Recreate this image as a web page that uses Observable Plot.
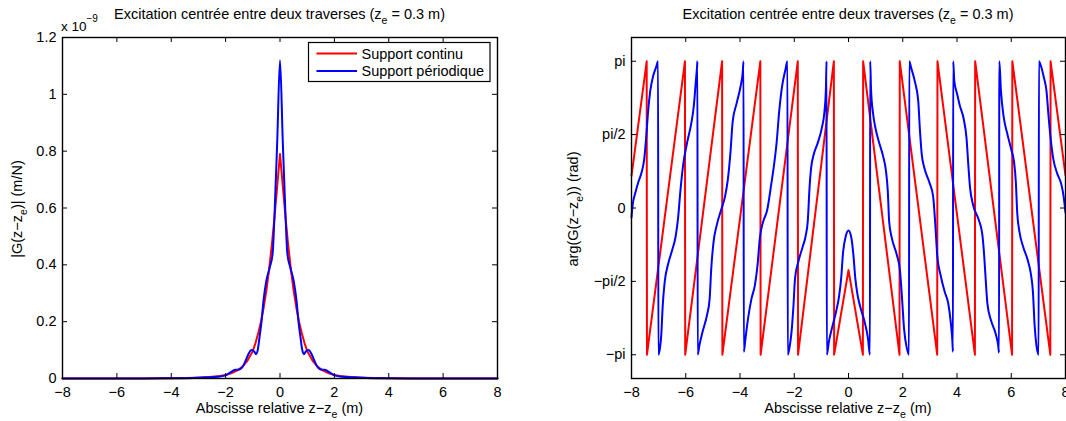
<!DOCTYPE html>
<html><head><meta charset="utf-8">
<script src="https://cdn.jsdelivr.net/npm/d3@7"></script>
<script src="https://cdn.jsdelivr.net/npm/@observablehq/plot@0.6"></script>
<style>
body{margin:0;background:#fff;}
#wrap{position:relative;width:1066px;height:421px;overflow:hidden;font-family:"Liberation Sans",Arial,Helvetica,sans-serif;}
#wrap svg{position:absolute;top:0;overflow:visible;}
</style></head><body><div id="wrap"></div>
<script>
// ---------- data ----------
const xTicks = [-8, -6, -4, -2, 0, 2, 4, 6, 8];
const magTicks = [0, 0.2, 0.4, 0.6, 0.8, 1, 1.2];
const magTickLabels = ["0", "0.2", "0.4", "0.6", "0.8", "1", "1.2"];
const phaseTicks = [-3.14159, -1.5708, 0, 1.5708, 3.14159];
const phaseTickLabels = ["\u2212pi", "\u2212pi/2", "0", "pi/2", "pi"];
const seriesNames = ["Support continu", "Support périodique"];

// |G| (x 1e-9 m/N), support continu
const redMag = [[-8,0],[-6,0.0001],[-5,0.0002],[-4,0.0008],[-3.5,0.0015],[-3,0.003],[-2.6,0.005],[-2.2,0.009],[-2,0.012],[-1.8,0.018],[-1.6,0.027],[-1.4,0.04],[-1.2,0.062],[-1,0.097],[-0.9,0.125],[-0.8,0.16],[-0.7,0.2],[-0.6,0.25],[-0.5,0.31],[-0.4,0.385],[-0.3,0.47],[-0.2,0.57],[-0.1,0.68],[0,0.79],[0.1,0.68],[0.2,0.57],[0.3,0.47],[0.4,0.385],[0.5,0.31],[0.6,0.25],[0.7,0.2],[0.8,0.16],[0.9,0.125],[1,0.097],[1.2,0.062],[1.4,0.04],[1.6,0.027],[1.8,0.018],[2,0.012],[2.2,0.009],[2.6,0.005],[3,0.003],[3.5,0.0015],[4,0.0008],[5,0.0002],[6,0.0001],[8,0]];
// |G| (x 1e-9 m/N), support périodique
const blueMag = [[-8,0],[-6,0.0001],[-5,0.0002],[-4,0.0008],[-3.2,0.002],[-2.7,0.004],[-2.3,0.006],[-2.05,0.01],[-1.9,0.017],[-1.75,0.026],[-1.65,0.031],[-1.55,0.031],[-1.45,0.034],[-1.35,0.045],[-1.25,0.066],[-1.15,0.088],[-1.05,0.1],[-0.95,0.095],[-0.88,0.086],[-0.82,0.1],[-0.76,0.14],[-0.68,0.2],[-0.6,0.28],[-0.5,0.345],[-0.38,0.39],[-0.27,0.44],[-0.2,0.58],[-0.1,0.84],[0,1.12],[0.1,0.84],[0.2,0.58],[0.27,0.44],[0.38,0.39],[0.5,0.345],[0.6,0.28],[0.68,0.2],[0.76,0.14],[0.82,0.1],[0.88,0.086],[0.95,0.095],[1.05,0.1],[1.15,0.088],[1.25,0.066],[1.35,0.045],[1.45,0.034],[1.55,0.031],[1.65,0.031],[1.75,0.026],[1.9,0.017],[2.05,0.01],[2.3,0.006],[2.7,0.004],[3.2,0.002],[4,0.0008],[5,0.0002],[6,0.0001],[8,0]];

// arg(G) (rad), support continu
const redArg = [[-8,0.69],[-7.44,3.14],[-7.43,-3.14],[-6.03,3.14],[-6.02,-3.14],[-4.66,3.14],[-4.65,-3.14],[-3.25,3.14],[-3.24,-3.14],[-1.87,3.14],[-1.86,-3.14],[-0.54,3.14],[-0.53,-3.14],[0,-1.33],[0.53,-3.14],[0.54,3.14],[1.88,-3.14],[1.89,3.14],[3.27,-3.14],[3.28,3.14],[4.66,-3.14],[4.67,3.14],[6.03,-3.14],[6.04,3.14],[7.44,-3.14],[7.45,3.14],[8,0.7]];
// arg(G) (rad), support périodique
const blueArg = [
[-8,-0.2],[-7.95,0.1],[-7.87,0.3],[-7.75,0.55],[-7.62,0.78],[-7.53,1.05],[-7.46,1.5],[-7.39,2.05],[-7.31,2.5],[-7.2,2.83],[-7.09,3.02],[-7.02,3.14],
[-7.01,-3.14],[-6.95,-3.0],[-6.9,-2.7],[-6.85,-2.1],[-6.78,-1.6],[-6.65,-1.2],[-6.5,-0.9],[-6.37,-0.6],[-6.28,-0.2],[-6.2,0.35],[-6.1,0.9],[-5.95,1.4],[-5.8,1.8],[-5.7,2.2],[-5.63,2.7],[-5.58,3.05],[-5.57,3.14],
[-5.56,-3.14],[-5.5,-2.95],[-5.38,-2.65],[-5.22,-2.3],[-5.12,-1.95],[-5.06,-1.3],[-4.98,-0.75],[-4.85,-0.35],[-4.7,-0.05],[-4.55,0.25],[-4.45,0.6],[-4.35,1.2],[-4.27,1.85],[-4.12,2.25],[-3.98,2.6],[-3.9,2.9],[-3.87,3.14],
[-3.86,-3.08],[-3.8,-2.8],[-3.7,-2.35],[-3.58,-1.95],[-3.45,-1.65],[-3.35,-1.2],[-3.27,-0.65],[-3.15,-0.3],[-3.0,-0.05],[-2.85,0.5],[-2.75,0.9],[-2.65,1.4],[-2.55,2.1],[-2.45,2.6],[-2.33,2.95],[-2.25,3.14],
[-2.24,-3.14],[-2.17,-2.97],[-2.1,-2.65],[-2.03,-2.1],[-1.97,-1.5],[-1.85,-1.15],[-1.7,-0.85],[-1.58,-0.6],[-1.5,-0.27],[-1.44,0.4],[-1.38,0.85],[-1.28,1.15],[-1.13,1.4],[-0.98,1.72],[-0.88,2.1],[-0.83,2.6],[-0.81,3.14],
[-0.8,-3.14],[-0.72,-2.85],[-0.6,-2.55],[-0.45,-2.2],[-0.35,-1.9],[-0.27,-1.5],[-0.2,-0.95],[-0.1,-0.6],[0,-0.48],[0.1,-0.62],[0.18,-1.0],[0.25,-1.5],[0.33,-1.85],[0.45,-2.15],[0.6,-2.45],[0.72,-2.8],[0.79,-3.14],
[0.8,3.14],[0.83,2.55],[0.9,2.05],[0.98,1.75],[1.12,1.42],[1.28,1.1],[1.38,0.8],[1.45,0.35],[1.5,-0.3],[1.6,-0.65],[1.78,-1.0],[1.9,-1.35],[1.97,-1.9],[2.05,-2.6],[2.15,-3.0],[2.23,-3.14],
[2.24,3.14],[2.31,3.0],[2.45,2.7],[2.57,2.3],[2.63,1.7],[2.7,1.15],[2.8,0.85],[2.98,0.55],[3.12,0.25],[3.2,-0.35],[3.27,-1.0],[3.4,-1.45],[3.55,-1.8],[3.68,-2.05],[3.77,-2.45],[3.83,-2.85],[3.85,-3.08],
[3.86,3.14],[3.9,2.72],[4.0,2.45],[4.1,2.2],[4.25,1.9],[4.35,1.5],[4.42,0.9],[4.48,0.44],[4.6,0.05],[4.8,-0.25],[4.93,-0.55],[5.0,-1.0],[5.06,-1.55],[5.12,-2.04],[5.25,-2.4],[5.42,-2.68],[5.52,-2.95],[5.55,-3.1],
[5.56,3.14],[5.62,2.51],[5.72,1.95],[5.85,1.6],[6.0,1.25],[6.1,1.0],[6.17,0.55],[6.22,-0.1],[6.3,-0.5],[6.45,-0.85],[6.6,-1.1],[6.72,-1.4],[6.8,-1.8],[6.86,-2.5],[6.93,-2.95],[7.01,-3.14],
[7.02,3.14],[7.09,3.05],[7.2,2.8],[7.3,2.5],[7.37,2.0],[7.45,1.5],[7.55,1.05],[7.7,0.73],[7.85,0.5],[7.93,0.25],[8,-0.1]];

// ---------- layout ----------
const FONT = '"Liberation Sans", Arial, Helvetica, sans-serif';
const FS = 14.5;
const W = 533, H = 421, MT = 37, MB = 43;
const RED = "#ff0000", BLUE = "#0000ff";
const TICK = 5;
const LW = 2;

function minusFmt(d) { return d < 0 ? "\u2212" + (-d) : String(d); }

function panel({ml, mr, yDomain, yTicks, yTickLabels, red, blue}) {
  const innerH = H - MT - MB, innerW = W - ml - mr;
  return Plot.plot({
    width: W, height: H,
    marginLeft: ml, marginRight: mr, marginTop: MT, marginBottom: MB,
    style: {fontFamily: FONT, fontSize: FS + "px", background: "transparent", color: "#000", overflow: "visible"},
    x: {domain: [-8, 8]},
    y: {domain: yDomain},
    marks: [
      Plot.line(red, {x: d => d[0], y: d => d[1], stroke: RED, strokeWidth: LW, curve: "linear"}),
      Plot.line(blue, {x: d => d[0], y: d => d[1], stroke: BLUE, strokeWidth: LW, curve: "monotone-x"}),
      Plot.tickX(xTicks, {x: d => d, insetTop: innerH - TICK, stroke: "#000", strokeWidth: 1}),
      Plot.tickX(xTicks, {x: d => d, insetBottom: innerH - TICK, stroke: "#000", strokeWidth: 1}),
      Plot.tickY(yTicks, {y: d => d, insetRight: innerW - TICK, stroke: "#000", strokeWidth: 1}),
      Plot.tickY(yTicks, {y: d => d, insetLeft: innerW - TICK, stroke: "#000", strokeWidth: 1}),
      Plot.frame({stroke: "#000", strokeWidth: 1.4}),
      Plot.axisX(xTicks, {anchor: "bottom", tickSize: 0, tickPadding: 8, tickFormat: minusFmt, fontSize: FS, label: null}),
      Plot.axisY(yTicks, {anchor: "left", tickSize: 0, tickPadding: 6, tickFormat: d => yTickLabels[yTicks.indexOf(d)], fontSize: FS, label: null})
    ]
  });
}

function addText(svg, {x, y, parts, rotate, anchor = "middle", size = FS}) {
  const t = d3.select(svg).append("text")
    .attr("font-family", FONT).attr("font-size", size).attr("fill", "#000")
    .attr("text-anchor", anchor).style("text-anchor", anchor)
    .attr("transform", `translate(${x},${y})` + (rotate ? ` rotate(${rotate})` : ""));
  for (const p of parts) {
    const s = t.append("tspan").text(p.t);
    if (p.dy) s.attr("dy", p.dy);
    if (p.size) s.attr("font-size", p.size);
  }
  return t;
}

const titleParts = [{t: "Excitation centrée entre deux traverses (z"}, {t: "e", dy: 5, size: 10.5}, {t: " = 0.3 m)", dy: -5}];
const xLabelParts = [{t: "Abscisse relative z\u2212z"}, {t: "e", dy: 5, size: 10.5}, {t: " (m)", dy: -5}];

const wrap = document.getElementById("wrap");

// Left panel: magnitude
const left = panel({ml: 62, mr: 36, yDomain: [0, 1.2], yTicks: magTicks, yTickLabels: magTickLabels, red: redMag, blue: blueMag});
left.style.left = "0px";
wrap.appendChild(left);
addText(left, {x: 279.5, y: 18.5, parts: titleParts});
addText(left, {x: 279.5, y: 413, parts: xLabelParts});
addText(left, {x: 22, y: 209, rotate: -90, parts: [{t: "|G(z\u2212z"}, {t: "e", dy: 5, size: 10.5}, {t: ")| (m/N)", dy: -5}]});
addText(left, {x: 61, y: 31, anchor: "start", size: 13.5, parts: [{t: "x 10"}, {t: "\u22129", dy: -9, size: 10}]});
// legend
{
  const g = d3.select(left).append("g");
  g.append("rect").attr("x", 308.5).attr("y", 42.5).attr("width", 181.5).attr("height", 39)
    .attr("fill", "#fff").attr("stroke", "#000").attr("stroke-width", 1.2);
  const rows = [{y: 53.5, c: RED, t: seriesNames[0]}, {y: 71, c: BLUE, t: seriesNames[1]}];
  for (const r of rows) {
    g.append("line").attr("x1", 316.5).attr("x2", 357).attr("y1", r.y).attr("y2", r.y)
      .attr("stroke", r.c).attr("stroke-width", LW);
    g.append("text").attr("x", 361.5).attr("y", r.y + 5).attr("font-family", FONT)
      .attr("font-size", FS).attr("text-anchor", "start").style("text-anchor", "start")
      .attr("fill", "#000").text(r.t);
  }
}

// Right panel: phase
const right = panel({ml: 98, mr: 1, yDomain: [-3.65, 3.65], yTicks: phaseTicks, yTickLabels: phaseTickLabels, red: redArg, blue: blueArg});
right.style.left = "533px";
wrap.appendChild(right);
addText(right, {x: 315, y: 18.5, parts: titleParts});
addText(right, {x: 315, y: 413, parts: xLabelParts});
addText(right, {x: 45, y: 209, rotate: -90, parts: [{t: "arg(G(z\u2212z"}, {t: "e", dy: 5, size: 10.5}, {t: ")) (rad)", dy: -5}]});
</script>
</body></html>
